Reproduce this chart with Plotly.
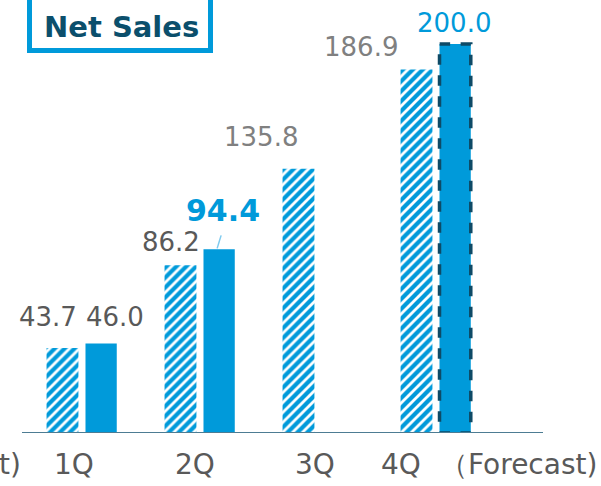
import plotly.graph_objects as go

quarters = ["1Q", "2Q", "3Q", "4Q"]
prev_year = [43.7, 86.2, 135.8, 186.9]
this_year = [46.0, 94.4, None, 200.0]
prev_labels = ["43.7", "86.2", "135.8", "186.9"]
this_labels = ["46.0", "94.4", "", "200.0"]
tick_texts = ["1Q", "2Q", "3Q", "4Q"]
forecast_suffix = "（Forecast)"
left_cut_text = "t)"
title_text = "Net Sales"

BLUE = "#009ADA"
NAVY = "#0B4F6C"
DGREY = "#595959"
LGREY = "#808080"
FONT = "DejaVu Sans"

xs = [1, 2, 3, 4]
fig = go.Figure()
fig.add_trace(go.Bar(
    x=xs, y=prev_year, width=0.27, offset=-0.30,
    marker=dict(color="white", line=dict(width=0),
                pattern=dict(shape="/", fgcolor=BLUE, bgcolor="white", size=7,
                             solidity=0.6, fgopacity=1)),
    showlegend=False, hoverinfo="skip"))
fig.add_trace(go.Bar(
    x=xs, y=this_year, width=0.265, offset=0.03,
    marker=dict(color=BLUE, line=dict(width=0)),
    showlegend=False, hoverinfo="skip"))

# dashed outline for forecast bar
fig.add_shape(type="rect", xref="x", yref="y", x0=4 + 0.03, x1=4 + 0.03 + 0.265,
              y0=0, y1=this_year[3], line=dict(color="#0E4A66", width=3.5, dash="dash"))

# value labels
prev_xshift = [-14.5, -9, -37, -55.5]
prev_yshift = [14, 6, 15, 5.5]
prev_colors = [DGREY, DGREY, LGREY, LGREY]
for i, (v, t) in enumerate(zip(prev_year, prev_labels)):
    fig.add_annotation(x=xs[i] - 0.165, y=v, text=t, showarrow=False, yanchor="bottom",
                       xshift=prev_xshift[i], yshift=prev_yshift[i],
                       font=dict(family=FONT, size=26, color=prev_colors[i]))
fig.add_annotation(x=1 + 0.1625, y=this_year[0], text=this_labels[0], showarrow=False,
                   yanchor="bottom", xshift=14, yshift=9.5,
                   font=dict(family=FONT, size=26, color=DGREY))
fig.add_annotation(x=2 + 0.1625, y=this_year[1], text="<b>" + this_labels[1] + "</b>", showarrow=False,
                   yanchor="bottom", xshift=4, yshift=19,
                   font=dict(family=FONT, size=30, color=BLUE))
fig.add_annotation(x=4 + 0.1625, y=this_year[3], text=this_labels[3], showarrow=False,
                   yanchor="bottom", xshift=-1, yshift=3.5,
                   font=dict(family=FONT, size=26, color=BLUE))
# leader line for 94.4
fig.add_shape(type="line", xref="x", yref="y", xsizemode="pixel", ysizemode="pixel",
              xanchor=2 + 0.1625, yanchor=this_year[1], x0=-2, x1=2, y0=1, y1=14,
              line=dict(color="#7FCBEF", width=1.5))

# category labels
cat_shift = [-7.5, -5, -3, -35]
for i in range(4):
    fig.add_annotation(x=xs[i], y=0, text=tick_texts[i], showarrow=False, yanchor="middle",
                       xanchor="center", xshift=cat_shift[i], yshift=-31,
                       font=dict(family=FONT, size=28, color=DGREY))
fig.add_annotation(xref="paper", yref="y", x=1, y=0, text=forecast_suffix, showarrow=False,
                   xanchor="right", yanchor="middle", xshift=56, yshift=-31,
                   font=dict(family=FONT, size=28, color=DGREY))
fig.add_annotation(xref="paper", yref="y", x=0, y=0, text=left_cut_text, showarrow=False,
                   xanchor="right", yanchor="middle", xshift=1, yshift=-31,
                   font=dict(family=FONT, size=28, color=DGREY))

# title box
fig.add_shape(type="rect", xref="paper", yref="paper", x0=0.0144, x1=0.3618, y0=0.8937, y1=1.03,
              line=dict(color=BLUE, width=5), fillcolor="white", layer="below")
fig.add_annotation(xref="paper", yref="paper", x=0.191, y=0.9486, text="<b>" + title_text + "</b>",
                   xanchor="center", yanchor="middle",
                   showarrow=False, font=dict(family=FONT, size=29, color=NAVY))

fig.update_layout(
    width=601, height=486, margin=dict(l=22, r=58, t=5, b=53),
    paper_bgcolor="white", plot_bgcolor="white", barmode="overlay",
    xaxis=dict(range=[0.492, 4.907], showticklabels=False, showgrid=False, zeroline=False,
               showline=False, ticks="", fixedrange=True),
    yaxis=dict(range=[0, 220], visible=False, showgrid=False, zeroline=False, fixedrange=True),
)
fig.add_shape(type="line", xref="paper", yref="y", x0=0, x1=1, y0=0, y1=0,
              line=dict(color="#4D7C93", width=2))

fig.write_html("out.html", config={"displayModeBar": False},
               post_script="document.body.style.margin='0';document.body.style.padding='0';")
